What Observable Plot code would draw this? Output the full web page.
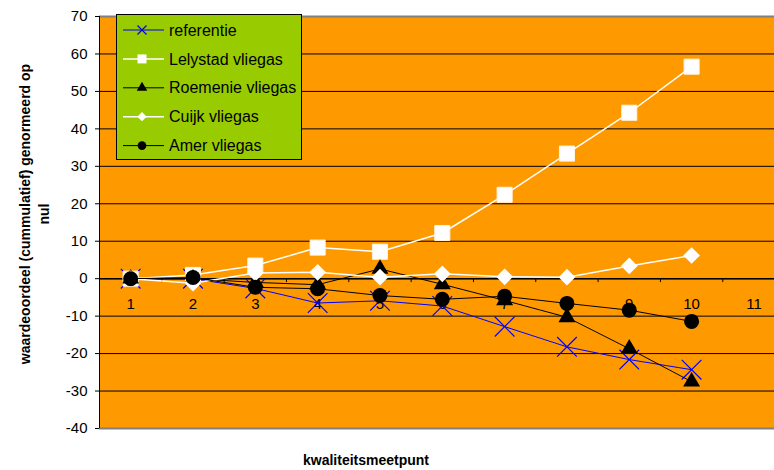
<!DOCTYPE html>
<html><head><meta charset="utf-8">
<script src="https://cdn.jsdelivr.net/npm/d3@7"></script>
<script src="https://cdn.jsdelivr.net/npm/@observablehq/plot@0.6"></script>
<style>
html,body{margin:0;padding:0;background:#fff;}
#chart{position:relative;width:774px;height:470px;overflow:hidden;font-family:"Liberation Sans",Arial,sans-serif;}
#legend{position:absolute;left:116px;top:14px;}
#ytitle{position:absolute;left:35px;top:214px;width:380px;margin-left:-190px;margin-top:-19px;height:38px;
  transform:rotate(-90deg);transform-origin:190px 19px;text-align:center;font-weight:bold;font-size:14px;line-height:19px;color:#000;white-space:pre;}
</style></head><body><div id="chart"></div>
<script>
// ---- data ----
const categories = [1, 2, 3, 4, 5, 6, 7, 8, 9, 10];
const xTickLabels = [1, 2, 3, 4, 5, 6, 7, 8, 9, 10, 11];
const yTicks = [-40, -30, -20, -10, 0, 10, 20, 30, 40, 50, 60, 70];
const seriesNames = ["referentie", "Lelystad vliegas", "Roemenie vliegas", "Cuijk vliegas", "Amer vliegas"];
const referentie = [0, 0, -2.6, -6.5, -5.9, -7.3, -12.8, -18.2, -21.6, -24.3];
const lelystad   = [0, 1, 3.5, 8.3, 7.2, 12.2, 22.4, 33.4, 44.3, 56.6];
const roemenie   = [0, 0, -1.0, -1.6, 2.6, -1.5, -5.8, -10.3, -18.7, -27.5];
const cuijk      = [0, -1.2, 1.5, 1.7, 0.4, 1.3, 0.5, 0.4, 3.4, 6.2];
const amer       = [0, 0.3, -2.3, -2.7, -4.5, -5.5, -4.7, -6.6, -8.4, -11.4];
const yTitleLines = ["waardeoordeel (cummulatief) genormeerd op", "nul"];
const xTitle = "kwaliteitsmeetpunt";

// ---- styles ----
const seriesValues = [referentie, lelystad, roemenie, cuijk, amer];
const styles = [
  {line: "#0000FF", lw: 1, symbol: "times", r: 9, fill: "none", stroke: "#0000FF", sw: 1.2, lsym: d3.symbolTimes, lsize: 55},
  {line: "#FFFFFF", lw: 1.5, symbol: "square", r: 8.5, fill: "#FFFFFF", stroke: "#FFF3E0", sw: 1, lsym: d3.symbolSquare, lsize: 81},
  {line: "#000000", lw: 1, symbol: "triangle", r: 6.3, fill: "#000000", stroke: "none", sw: 0, lsym: d3.symbolTriangle, lsize: 48},
  {line: "#FFFFFF", lw: 1.5, symbol: "diamond2", r: 7.5, fill: "#FFFFFF", stroke: "none", sw: 0, lsym: d3.symbolDiamond2, lsize: 55},
  {line: "#000000", lw: 1, symbol: "circle", r: 7.5, fill: "#000000", stroke: "none", sw: 0, lsym: d3.symbolCircle, lsize: 60}
];

const rows = seriesNames.map((name, s) => categories.map((c, i) => ({series: name, x: c, y: seriesValues[s][i]})));
const boundaries = xTickLabels.slice(0, -1).map(d => d + 0.5);

const seriesMarks = rows.flatMap((data, s) => {
  const st = styles[s];
  return [
    Plot.line(data, {x: "x", y: "y", stroke: st.line, strokeWidth: st.lw}),
    Plot.dot(data, {x: "x", y: "y", symbol: () => st.symbol, r: st.r, fill: st.fill, stroke: st.stroke, strokeWidth: st.sw})
  ];
});

const chart = Plot.plot({
  width: 774,
  height: 470,
  marginLeft: 99,
  marginRight: 0,
  marginTop: 16,
  marginBottom: 42,
  style: {fontFamily: "'Liberation Sans', Arial, sans-serif", fontSize: "15px", background: "#FFFFFF", color: "#000"},
  x: {domain: [0.5, 11.33], axis: null},
  y: {domain: [-40, 70], ticks: yTicks, tickSize: 4, tickPadding: 8, tickFormat: d => String(d), label: null},
  symbol: {type: "identity"},
  marks: [
    Plot.frame({fill: "#FF9900", stroke: "none"}),
    Plot.ruleY(yTicks.filter(v => v > -40 && v < 70), {stroke: "#000000", strokeWidth: 1}),
    Plot.ruleY([70, -40], {stroke: "#808080", strokeWidth: 2}),
    Plot.ruleX([0.5], {stroke: "#000000", strokeWidth: 1}),
    Plot.ruleY([0], {stroke: "#000000", strokeWidth: 1.5}),
    Plot.ruleX(boundaries, {y1: 0, y2: -1.05, stroke: "#000000", strokeWidth: 1}),
    Plot.text(xTickLabels, {x: d => d, y: 0, dy: 26, text: d => String(d), fontSize: 15, fill: "#000"}),
    ...seriesMarks,
    Plot.text([xTitle], {frameAnchor: "bottom", dx: -71, dy: 36, fontWeight: "bold", fontSize: 14, fill: "#000"})
  ]
});
document.getElementById("chart").appendChild(chart);

// ---- y axis title ----
d3.select("#chart").append("div").attr("id", "ytitle").text(yTitleLines.join("\n"));

// ---- legend ----
const lw = 186, lh = 146;
const legend = d3.select("#chart").append("svg")
  .attr("id", "legend").attr("width", lw).attr("height", lh)
  .style("font-family", "'Liberation Sans', Arial, sans-serif");
legend.append("rect").attr("x", 0.5).attr("y", 0.5).attr("width", lw - 1).attr("height", lh - 1)
  .attr("fill", "#99CC00").attr("stroke", "#000").attr("stroke-width", 1);
seriesNames.forEach((name, i) => {
  const st = styles[i];
  const y = 16 + i * 28.9;
  const g = legend.append("g").attr("transform", `translate(0,${y})`);
  g.append("line").attr("x1", 7).attr("x2", 48).attr("y1", 0).attr("y2", 0)
    .attr("stroke", st.line).attr("stroke-width", st.lw);
  g.append("path").attr("transform", "translate(26,0)")
    .attr("d", d3.symbol(st.lsym, st.lsize)())
    .attr("fill", st.symbol === "times" ? "none" : st.fill)
    .attr("stroke", st.symbol === "times" ? st.stroke : "none")
    .attr("stroke-width", 1.2);
  g.append("text").attr("x", 53).attr("y", 0).attr("dy", "0.35em")
    .attr("font-size", 16).attr("fill", "#000").text(name);
});
</script>
</body></html>
